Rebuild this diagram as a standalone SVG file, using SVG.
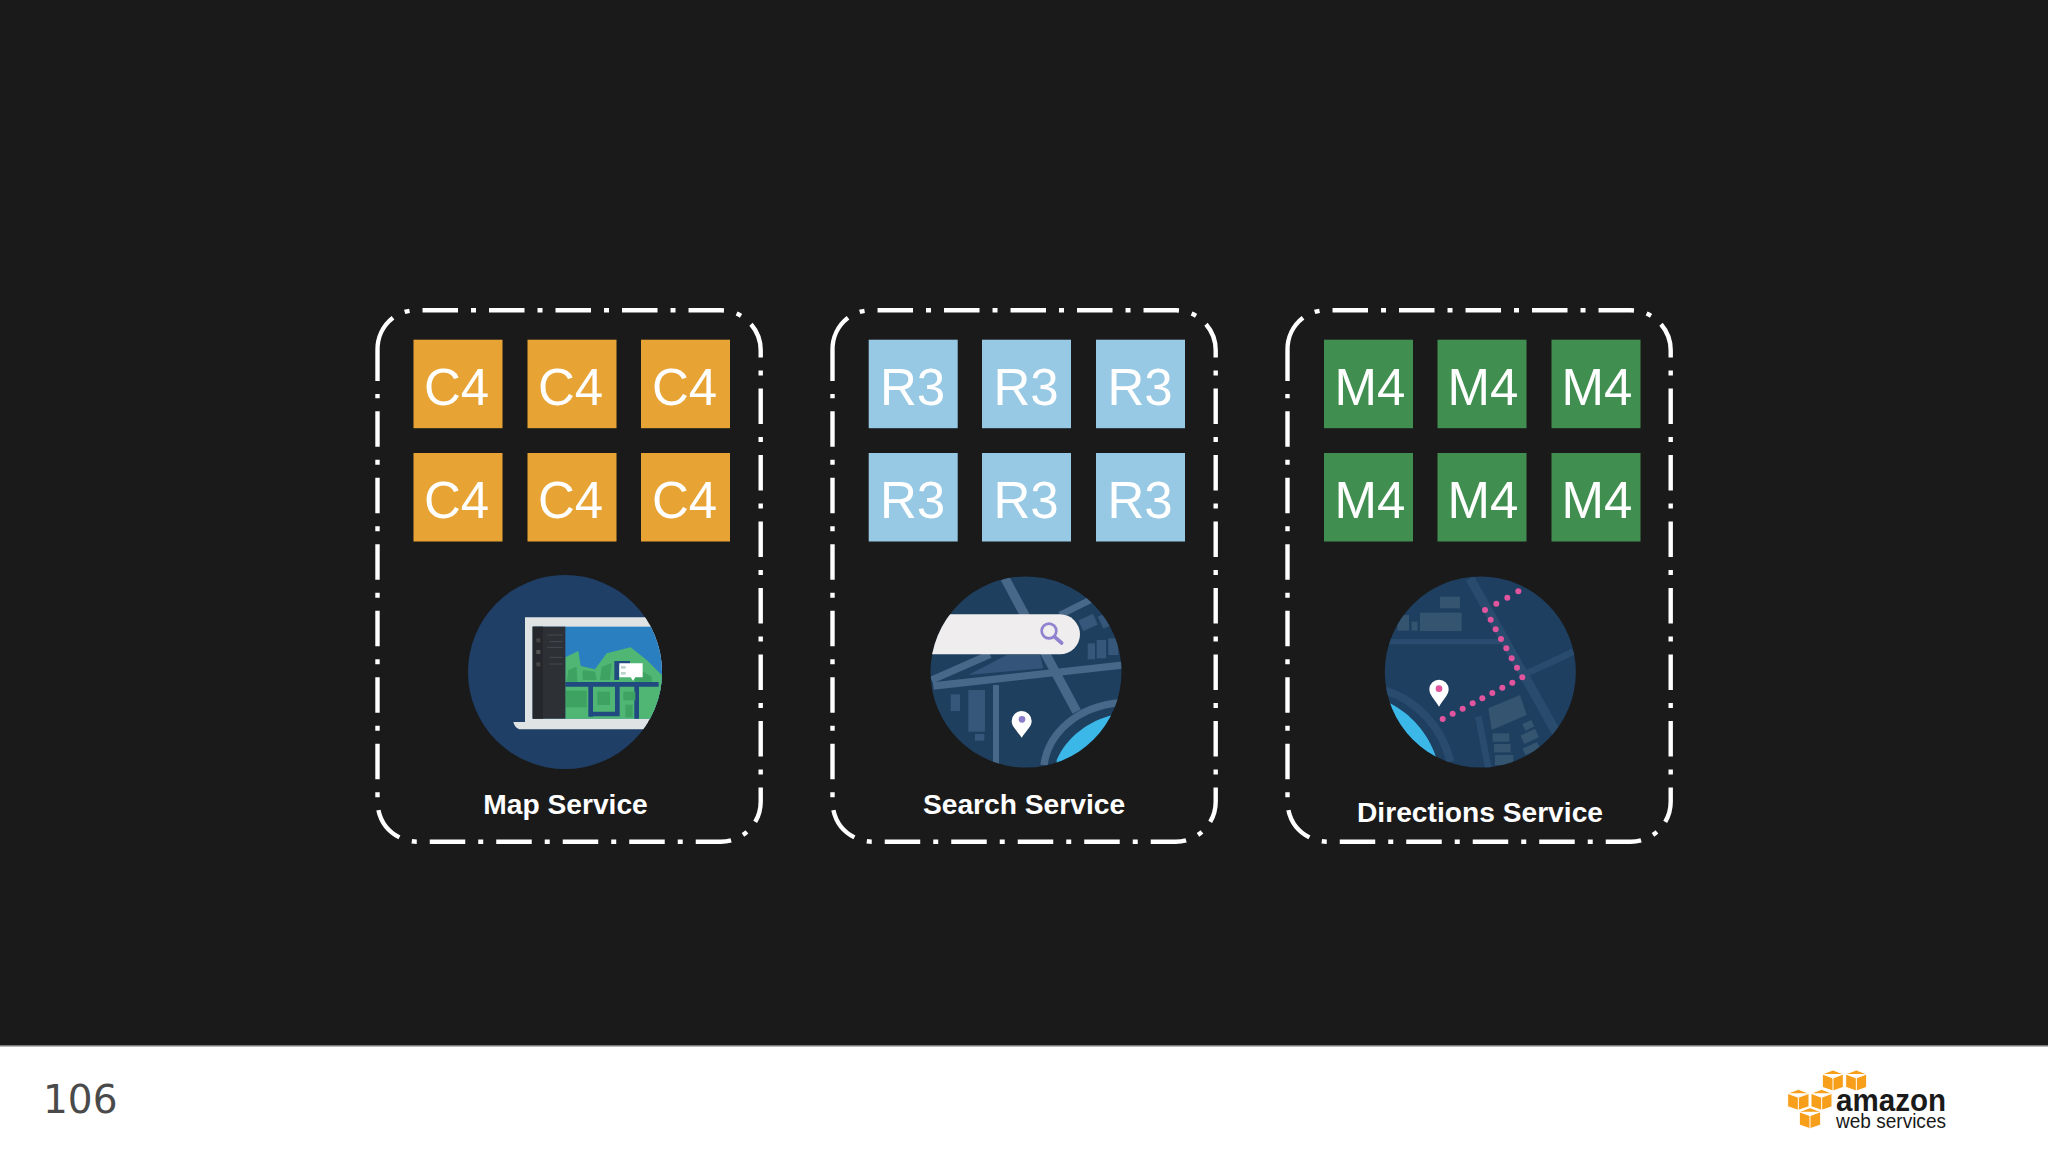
<svg xmlns="http://www.w3.org/2000/svg" width="2048" height="1152" viewBox="0 0 2048 1152">
<style>
.frame{fill:none;stroke:#fff;stroke-width:4.4}
.dash{stroke-dasharray:35.5 13 5 13;stroke-dashoffset:35.5}
.tile{font:51px "Liberation Sans",Arial,sans-serif;fill:#fff;text-anchor:middle}
.name{font:bold 28.2px "Liberation Sans",Arial,sans-serif;fill:#fff;text-anchor:middle}
.c4{fill:#e7a334}.r3{fill:#98c9e4}.m4{fill:#418f50}
.road{fill:none;stroke:#48688a}
.road2{fill:none;stroke:#294c6e}
.b1{fill:#36567a}
.b2{fill:#34546f}
.cube{fill:#f79f1a;stroke:#fff;stroke-width:3}
</style>
<defs>
<g id="box">
<path class="frame dash" d="M393,317.7A40,40 0 0 1 417.5,310.3H720.7A40,40 0 0 1 760.7,350.3V801.7A40,40 0 0 1 720.7,841.7H417.5A40,40 0 0 1 377.5,801.7V394"/>
<path class="frame" d="M377.5,381V350.3A40,40 0 0 1 393,317.7"/>
</g>
<clipPath id="c1"><circle cx="315" cy="306" r="291"/></clipPath>
<clipPath id="c2"><circle cx="378" cy="336" r="286.5"/></clipPath>
<clipPath id="c3"><circle cx="361" cy="336" r="286.5"/></clipPath>
</defs>
<rect width="2048" height="1152" fill="#1a1a1b"/>
<rect y="1046" width="2048" height="106" fill="#fff"/>
<rect y="1045" width="2048" height="1.5" fill="#777"/>

<g id="connectors"/>

<g id="map-service">
<use href="#box"/>
<rect class="c4" x="413.5" y="339.7" width="89" height="88.5"/><text class="tile" x="456.5" y="404.5">C4</text>
<rect class="c4" x="527.5" y="339.7" width="89" height="88.5"/><text class="tile" x="570.5" y="404.5">C4</text>
<rect class="c4" x="641" y="339.7" width="89" height="88.5"/><text class="tile" x="684.5" y="404.5">C4</text>
<rect class="c4" x="413.5" y="453" width="89" height="88.5"/><text class="tile" x="456.5" y="518.3">C4</text>
<rect class="c4" x="527.5" y="453" width="89" height="88.5"/><text class="tile" x="570.5" y="518.3">C4</text>
<rect class="c4" x="641" y="453" width="89" height="88.5"/><text class="tile" x="684.5" y="518.3">C4</text>
<g transform="translate(460 570) scale(.33333)">
<circle cx="315" cy="306" r="291" fill="#1f3f66"/>
<g clip-path="url(#c1)">
<path d="M195,142H700V460H195Z" fill="#dfe3e3"/>
<rect x="218" y="170" width="480" height="276" fill="#2a7fc0"/>
<path d="M316,262L355,243L362,288L405,298L440,250L512,232L560,270L610,320L610,446H316Z" fill="#4fb673"/>
<path d="M325,300L350,290L352,335H320ZM368,300L405,305L410,330H368ZM425,290L455,280L450,330H420ZM525,290L575,320V335H525Z" fill="#3ea263"/>
<path d="M316,343H596M392,343V440M472,343V432H392M530,343V446M470,330V280H510" fill="none" stroke="#204a80" stroke-width="14"/>
<rect x="316" y="362" width="64" height="50" fill="#3ea263"/><rect x="412" y="365" width="38" height="40" fill="#3ea263"/><rect x="490" y="365" width="36" height="26" fill="#3ea263"/><rect x="496" y="404" width="22" height="38" fill="#3ea263"/>
<rect x="218" y="170" width="98" height="276" fill="#2d3035"/>
<rect x="218" y="170" width="31" height="276" fill="#24272b"/>
<path d="M262,195H308M268,215H308M262,232H308M268,262H308M268,282H308" stroke="#555a60" stroke-width="2"/>
<rect x="229" y="205" width="12" height="12" fill="#444"/><rect x="229" y="240" width="12" height="12" fill="#555"/><rect x="229" y="277" width="12" height="12" fill="#444"/>
<path d="M478,280H548V322H526L519,332L512,322H478Z" fill="#fff"/>
<rect x="483" y="288" width="14" height="8" fill="#bcd3cc"/><rect x="483" y="306" width="14" height="8" fill="#bcd3cc"/>
<path d="M160,456H700V478H178Q165,474 160,456Z" fill="#dfe3e3"/>
</g>
</g>
<text class="name" x="565.5" y="814">Map Service</text>
</g>

<g id="search-service">
<use href="#box" x="455"/>
<rect class="r3" x="868.7" y="339.7" width="89" height="88.5"/><text class="tile" x="912.5" y="404.5">R3</text>
<rect class="r3" x="982" y="339.7" width="89" height="88.5"/><text class="tile" x="1026" y="404.5">R3</text>
<rect class="r3" x="1096" y="339.7" width="89" height="88.5"/><text class="tile" x="1140" y="404.5">R3</text>
<rect class="r3" x="868.7" y="453" width="89" height="88.5"/><text class="tile" x="912.5" y="518.3">R3</text>
<rect class="r3" x="982" y="453" width="89" height="88.5"/><text class="tile" x="1026" y="518.3">R3</text>
<rect class="r3" x="1096" y="453" width="89" height="88.5"/><text class="tile" x="1140" y="518.3">R3</text>
<g transform="translate(900 560) scale(.33333)">
<circle cx="378" cy="336" r="286.5" fill="#1f3f5f"/>
<g clip-path="url(#c2)">
<rect class="b1" x="152" y="403" width="28" height="50"/><rect class="b1" x="205" y="390" width="50" height="125"/><rect class="b1" x="225" y="522" width="28" height="20"/>
<rect class="b1" x="540" y="170" width="48" height="35" transform="rotate(-25 564 187)"/><rect class="b1" x="600" y="160" width="40" height="40" transform="rotate(-25 620 180)"/>
<rect class="b1" x="563" y="250" width="22" height="48"/><rect class="b1" x="590" y="240" width="28" height="55"/><rect class="b1" x="625" y="235" width="30" height="50"/>
<path d="M205,345L320,285H420L430,325Z" fill="#34547a"/>
<path d="M315,55L530,455" class="road" stroke-width="28"/>
<path d="M480,165L575,118" class="road" stroke-width="20"/>
<path d="M95,360L270,283" class="road" stroke-width="22"/>
<path d="M100,378L670,315" class="road" stroke-width="22"/>
<path d="M288,375V615" class="road" stroke-width="18"/>
<path d="M432,615C445,520 530,440 660,428" class="road" stroke-width="22"/>
<path d="M470,600C500,530 570,480 640,465L680,700H470Z" fill="#3bb7e8"/>
<path d="M60,163H480A60,60 0 0 1 480,283H60Z" fill="#efeded"/>
<circle cx="447" cy="213" r="22" fill="none" stroke="#8f83cf" stroke-width="8"/>
<path d="M463,230L485,249" stroke="#8f83cf" stroke-width="11" stroke-linecap="round"/>
<path d="M365,533C350,510 335,500 335,483A30,30 0 0 1 395,483C395,500 380,510 365,533Z" fill="#fff"/>
<circle cx="366" cy="478" r="10" fill="#8a7cc8"/>
</g>
</g>
<text class="name" x="1024" y="814">Search Service</text>
</g>

<g id="directions-service">
<use href="#box" x="910"/>
<rect class="m4" x="1324" y="339.7" width="89" height="88.5"/><text class="tile" x="1370" y="404.5">M4</text>
<rect class="m4" x="1437.5" y="339.7" width="89" height="88.5"/><text class="tile" x="1483" y="404.5">M4</text>
<rect class="m4" x="1551.5" y="339.7" width="89" height="88.5"/><text class="tile" x="1597" y="404.5">M4</text>
<rect class="m4" x="1324" y="453" width="89" height="88.5"/><text class="tile" x="1370" y="518.3">M4</text>
<rect class="m4" x="1437.5" y="453" width="89" height="88.5"/><text class="tile" x="1483" y="518.3">M4</text>
<rect class="m4" x="1551.5" y="453" width="89" height="88.5"/><text class="tile" x="1597" y="518.3">M4</text>
<g transform="translate(1360 560) scale(.33333)">
<circle cx="361" cy="336" r="286.5" fill="#1e3f60"/>
<g clip-path="url(#c3)">
<rect class="b2" x="240" y="110" width="60" height="35"/><rect class="b2" x="180" y="158" width="125" height="55"/><rect class="b2" x="112" y="165" width="35" height="47"/><rect class="b2" x="155" y="185" width="18" height="27"/>
<path d="M385,445L480,405L500,465L395,510Z" class="b2"/>
<rect class="b2" x="398" y="520" width="50" height="25"/><rect class="b2" x="402" y="552" width="50" height="25"/><rect class="b2" x="405" y="585" width="55" height="30"/>
<rect class="b2" x="485" y="515" width="48" height="28" transform="rotate(-25 509 529)"/><rect class="b2" x="490" y="555" width="48" height="22" transform="rotate(-25 514 566)"/><rect class="b2" x="490" y="485" width="30" height="22" transform="rotate(-25 505 496)"/>
<path d="M80,245H425" class="road2" stroke-width="16"/>
<path d="M330,55L590,520" class="road2" stroke-width="28"/>
<path d="M490,345L640,275" class="road2" stroke-width="20"/>
<path d="M75,392C170,420 245,500 272,605" class="road2" stroke-width="24"/>
<path d="M355,470L385,625" class="road2" stroke-width="20"/>
<path d="M90,430C150,460 205,520 228,592L100,640L50,500Z" fill="#3bb7e8"/>
<g fill="#e0559e"><circle cx="475" cy="94" r="9"/><circle cx="442" cy="113" r="9"/><circle cx="409" cy="131" r="9"/><circle cx="375" cy="150" r="9"/><circle cx="392" cy="179" r="9"/><circle cx="407" cy="208" r="9"/><circle cx="423" cy="237" r="9"/><circle cx="439" cy="265" r="9"/><circle cx="455" cy="295" r="9"/><circle cx="471" cy="323" r="9"/><circle cx="487" cy="352" r="9"/><circle cx="457" cy="368" r="9"/><circle cx="427" cy="383" r="9"/><circle cx="397" cy="399" r="9"/><circle cx="367" cy="415" r="9"/><circle cx="338" cy="430" r="9"/><circle cx="308" cy="446" r="9"/><circle cx="278" cy="461" r="9"/><circle cx="248" cy="477" r="9"/></g>
<path d="M237,440C222,415 208,405 208,388A29,29 0 0 1 266,388C266,405 252,415 237,440Z" fill="#fff"/>
<circle cx="237" cy="386" r="10" fill="#e0559e"/>
</g>
</g>
<text class="name" x="1480" y="821.7">Directions Service</text>
</g>

<text x="43" y="1113.3" font-family="DejaVu Sans, sans-serif" font-size="39" fill="#4a4a4a">106</text>

<g id="aws-logo">
<g transform="translate(1760 1050) scale(.33333)">
<g id="cubes">
<path class="cube" d="M187,72L219,60L250,72V112L219,123L187,112ZM187,72L219,84L250,72M219,84V123"/>
<path class="cube" d="M257,72L289,60L320,72V112L289,123L257,112ZM257,72L289,84L320,72M289,84V123"/>
<path class="cube" d="M83,130L115,118L147,130V170L115,181L83,170ZM83,130L115,142L147,130M115,142V181"/>
<path class="cube" d="M153,130L185,118L216,130V170L185,181L153,170ZM153,130L185,142L216,130M185,142V181"/>
<path class="cube" d="M118,185L150,173L182,185V225L150,236L118,225ZM118,185L150,197L182,185M150,197V236"/>
</g>
</g>
<text x="1836" y="1111" font-family="Liberation Sans, Arial, sans-serif" font-weight="bold" font-size="31" textLength="110" lengthAdjust="spacingAndGlyphs" fill="#1a1a1a">amazon</text>
<text x="1836" y="1127.5" font-family="Liberation Sans, Arial, sans-serif" font-size="20" textLength="110" lengthAdjust="spacingAndGlyphs" fill="#1a1a1a">web services</text>
</g>
</svg>
